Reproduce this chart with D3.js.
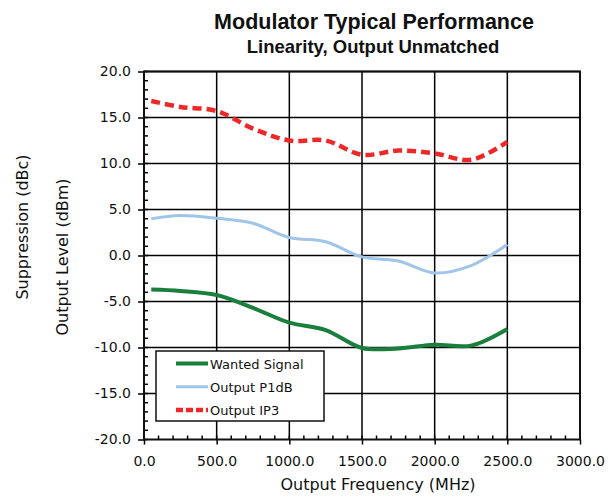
<!DOCTYPE html>
<html>
<head>
<meta charset="utf-8">
<script src="https://cdn.jsdelivr.net/npm/d3@7"></script>
<style>
  body { margin: 0; background: #fff; }
  svg { display: block; }
</style>
</head>
<body>
<div id="chart"></div>
<script>
// frequencies (MHz) sampled along the curves
const freqs = [50, 250, 500, 750, 1000, 1250, 1500, 1750, 2000, 2250, 2500]

// series values
const wantedSignal = [-3.7, -3.85, -4.3, -5.7, -7.3, -8.1, -10.05, -10.1, -9.7, -9.8, -8.0]
const outputP1dB = [4.0, 4.35, 4.05, 3.5, 1.95, 1.5, -0.15, -0.6, -1.9, -1.1, 1.2]
const outputIP3 = [16.8, 16.15, 15.7, 13.8, 12.5, 12.5, 10.95, 11.4, 11.1, 10.4, 12.35]

const seriesNames = ['Wanted Signal', 'Output P1dB', 'Output IP3']
const xTicks = [0, 500, 1000, 1500, 2000, 2500, 3000]
const yTicks = [-20, -15, -10, -5, 0, 5, 10, 15, 20]

const W = 616, H = 499
const m = { t: 71.5, r: 36, b: 59.5, l: 144 }
const w = W - m.l - m.r
const h = H - m.t - m.b
const font = 'DejaVu Sans, sans-serif'
const fmt = d => d.toFixed(1) // plain hyphen minus, like the original

const svg = d3.select('#chart').append('svg')
  .attr('width', W).attr('height', H)

const g = svg.append('g')
  .attr('transform', 'translate(' + m.l + ',' + m.t + ')')

const x = d3.scaleLinear().domain([0, 3000]).range([0, w])
const y = d3.scaleLinear().domain([-20, 20]).range([h, 0])

// grid lines
g.append('g').selectAll('line').data(xTicks.slice(1)).enter().append('line')
  .attr('x1', d => x(d)).attr('x2', d => x(d))
  .attr('y1', 0).attr('y2', h)
  .attr('stroke', '#000').attr('stroke-width', 1.5)
g.append('g').selectAll('line').data(yTicks.slice(1)).enter().append('line')
  .attr('x1', 0).attr('x2', w)
  .attr('y1', d => y(d)).attr('y2', d => y(d))
  .attr('stroke', '#000').attr('stroke-width', 1.5)

// minor ticks (inside), major ticks (outside)
const xMinor = d3.range(0, 3001, 100)
const yMinor = d3.range(-20, 20.1, 1)
g.append('g').selectAll('line').data(xMinor).enter().append('line')
  .attr('x1', d => x(d)).attr('x2', d => x(d))
  .attr('y1', h).attr('y2', h - 4)
  .attr('stroke', '#000').attr('stroke-width', 1.5)
g.append('g').selectAll('line').data(yMinor).enter().append('line')
  .attr('x1', 0).attr('x2', 4)
  .attr('y1', d => y(d)).attr('y2', d => y(d))
  .attr('stroke', '#000').attr('stroke-width', 1.5)

const xAxis = g.append('g')
  .attr('transform', 'translate(0,' + h + ')')
  .call(d3.axisBottom(x).tickValues(xTicks).tickFormat(fmt).tickSize(5).tickPadding(12))
const yAxis = g.append('g')
  .call(d3.axisLeft(y).tickValues(yTicks).tickFormat(fmt).tickSize(6).tickPadding(7))

;[xAxis, yAxis].forEach(a => {
  a.select('.domain').remove()
  a.selectAll('.tick line').attr('stroke', '#000').attr('stroke-width', 1.5)
  a.selectAll('.tick text').attr('fill', '#111').style('font-family', font).style('font-size', '14px')
})

// plot border
g.append('rect')
  .attr('width', w).attr('height', h)
  .attr('fill', 'none').attr('stroke', '#111').attr('stroke-width', 2)

// series
const styles = [
  { color: '#1a7f3c', width: 4, dash: null },
  { color: '#9fc5e8', width: 3, dash: null },
  { color: '#ee2828', width: 4.5, dash: '9,5' }
]
const allSeries = [wantedSignal, outputP1dB, outputIP3]

const line = d3.line()
  .x(d => x(d[0])).y(d => y(d[1]))
  .curve(d3.curveCatmullRom.alpha(0.5))

allSeries.forEach((vals, i) => {
  g.append('path')
    .datum(freqs.map((f, j) => [f, vals[j]]))
    .attr('d', line)
    .attr('fill', 'none')
    .attr('stroke', styles[i].color)
    .attr('stroke-width', styles[i].width)
    .attr('stroke-dasharray', styles[i].dash)
})

// legend
const leg = svg.append('g').attr('transform', 'translate(156,351)')
leg.append('rect')
  .attr('width', 168).attr('height', 70)
  .attr('fill', '#fff').attr('stroke', '#111').attr('stroke-width', 1.5)
seriesNames.forEach((name, i) => {
  const ly = 12.5 + i * 23.3
  leg.append('line')
    .attr('x1', 20).attr('x2', 52).attr('y1', ly).attr('y2', ly)
    .attr('stroke', styles[i].color)
    .attr('stroke-width', styles[i].width)
    .attr('stroke-dasharray', styles[i].dash ? '7,3' : null)
  leg.append('text')
    .attr('x', 54).attr('y', ly + 5)
    .style('font-family', font).style('font-size', '13px')
    .attr('fill', '#111')
    .text(name)
})

// titles
svg.append('text')
  .attr('x', 374).attr('y', 29)
  .attr('text-anchor', 'middle')
  .style('font-family', 'Liberation Sans Narrow, Liberation Sans, sans-serif')
  .style('font-weight', 'bold').style('font-size', '21.5px')
  .attr('fill', '#111')
  .text('Modulator Typical Performance')
svg.append('text')
  .attr('x', 373).attr('y', 53)
  .attr('text-anchor', 'middle')
  .style('font-family', 'Liberation Sans Narrow, Liberation Sans, sans-serif')
  .style('font-weight', 'bold').style('font-size', '18.5px')
  .attr('fill', '#111')
  .text('Linearity, Output Unmatched')

svg.append('text')
  .attr('x', 378).attr('y', 490)
  .attr('text-anchor', 'middle')
  .style('font-family', font).style('font-size', '16px')
  .attr('fill', '#111')
  .text('Output Frequency (MHz)')

svg.append('text')
  .attr('transform', 'translate(28,227) rotate(-90)')
  .attr('text-anchor', 'middle')
  .style('font-family', font).style('font-size', '16px')
  .attr('fill', '#111')
  .text('Suppression (dBc)')
svg.append('text')
  .attr('transform', 'translate(68,257) rotate(-90)')
  .attr('text-anchor', 'middle')
  .style('font-family', font).style('font-size', '16px')
  .attr('fill', '#111')
  .text('Output Level (dBm)')
</script>
</body>
</html>
